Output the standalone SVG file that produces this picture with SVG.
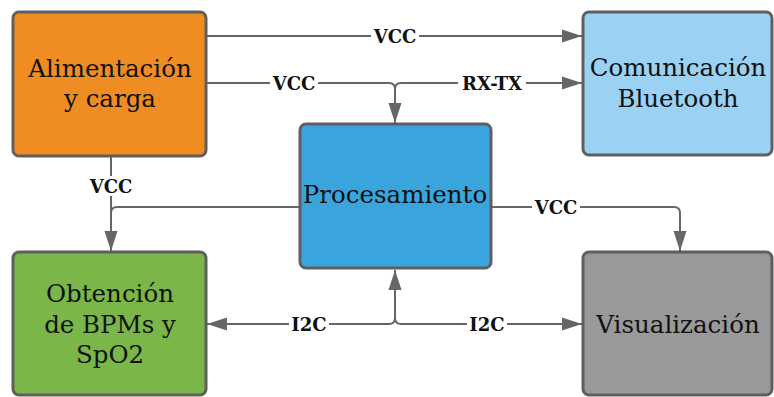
<svg xmlns="http://www.w3.org/2000/svg" width="774" height="397" viewBox="0 0 774 397">
  <style>
    .box { stroke: #5f5f5f; stroke-width: 3; }
    .nt { font-family: "DejaVu Serif", "Liberation Serif", serif; font-size: 24.5px; fill: #111; text-anchor: middle; }
    .wire { fill: none; stroke: #666; stroke-width: 2; }
    .lbl { font-family: "DejaVu Serif", "Liberation Serif", serif; font-size: 18px; font-weight: bold; fill: #111; text-anchor: middle; }
    .lbg { fill: #fff; }
  </style>
  <defs>
    <marker id="arr" markerUnits="userSpaceOnUse" markerWidth="21" markerHeight="14" refX="20" refY="7" orient="auto">
      <path d="M0,0.5 L20,7 L0,13.5 z" fill="#666"/>
    </marker>
  </defs>
  <rect width="774" height="397" fill="#fff"/>

  <g id="connectors">
    <path class="wire" d="M206,36 H582" marker-end="url(#arr)"/>
    <path class="wire" d="M206,83 H389 Q395,83 395,89 V123" marker-end="url(#arr)"/>
    <path class="wire" d="M395,100 V89 Q395,83 401,83 H582" marker-end="url(#arr)"/>
    <path class="wire" d="M111,156 V251" marker-end="url(#arr)"/>
    <path class="wire" d="M300,207 H117 Q111,207 111,213 V230"/>
    <path class="wire" d="M491,207 H674 Q680,207 680,213 V251" marker-end="url(#arr)"/>
    <path class="wire" d="M395,318 V270" marker-end="url(#arr)"/>
    <path class="wire" d="M395,300 V318 Q395,324 389,324 H207" marker-end="url(#arr)"/>
    <path class="wire" d="M395,318 Q395,324 401,324 H582" marker-end="url(#arr)"/>

    <rect class="lbg" x="371" y="26" width="48" height="20"/>
    <text class="lbl" x="395" y="42.5">VCC</text>
    <rect class="lbg" x="270" y="73" width="48" height="20"/>
    <text class="lbl" x="294" y="89.5">VCC</text>
    <rect class="lbg" x="458" y="73" width="68" height="20"/>
    <text class="lbl" x="492" y="89.5">RX-TX</text>
    <rect class="lbg" x="87" y="176" width="48" height="20"/>
    <text class="lbl" x="111" y="192.5">VCC</text>
    <rect class="lbg" x="532" y="197" width="48" height="20"/>
    <text class="lbl" x="556" y="213.5">VCC</text>
    <rect class="lbg" x="289" y="314" width="40" height="20"/>
    <text class="lbl" x="309" y="330.5">I2C</text>
    <rect class="lbg" x="467" y="314" width="40" height="20"/>
    <text class="lbl" x="487" y="330.5">I2C</text>
  </g>

  <g id="alimentacion">
    <rect class="box" x="13" y="12" width="193" height="144" rx="6" fill="#ef8d22"/>
    <text class="nt" x="110" y="77">Alimentación</text>
    <text class="nt" x="110" y="107">y carga</text>
  </g>
  <g id="comunicacion">
    <rect class="box" x="583" y="12" width="189" height="143" rx="6" fill="#9bd1f2"/>
    <text class="nt" x="678" y="76">Comunicación</text>
    <text class="nt" x="678" y="107">Bluetooth</text>
  </g>
  <g id="procesamiento">
    <rect class="box" x="300" y="124" width="191" height="144" rx="6" fill="#3aa5dd"/>
    <text class="nt" x="395" y="203">Procesamiento</text>
  </g>
  <g id="obtencion">
    <rect class="box" x="13" y="252" width="193" height="143" rx="6" fill="#7ab648"/>
    <text class="nt" x="110" y="302">Obtención</text>
    <text class="nt" x="110" y="333">de BPMs y</text>
    <text class="nt" x="110" y="363">SpO2</text>
  </g>
  <g id="visualizacion">
    <rect class="box" x="583" y="252" width="189" height="143" rx="6" fill="#999999"/>
    <text class="nt" x="678" y="333">Visualización</text>
  </g>
</svg>
